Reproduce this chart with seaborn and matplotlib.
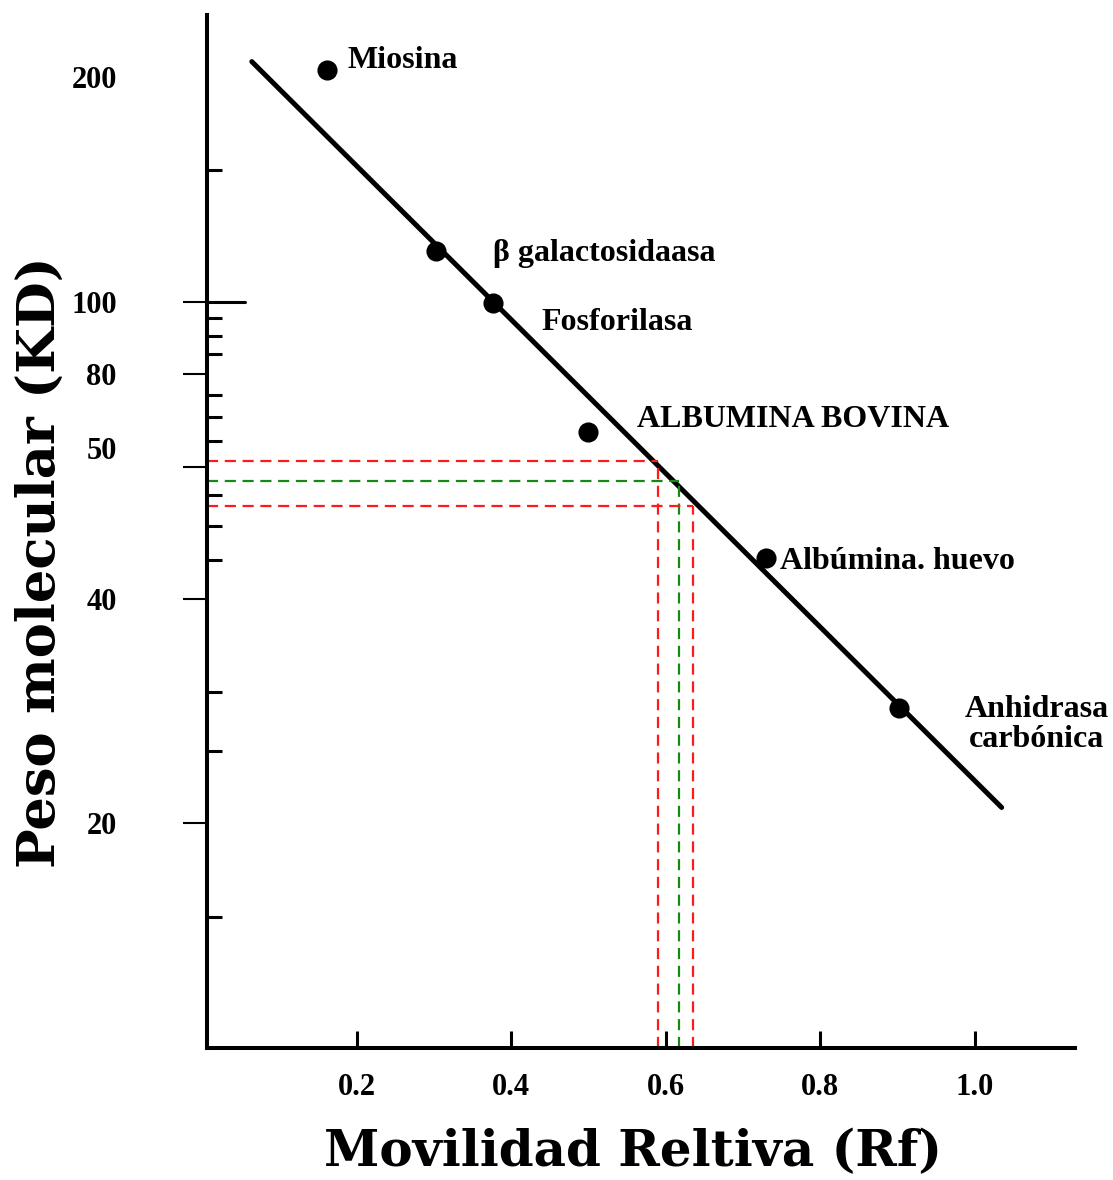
import seaborn as sns
import matplotlib.pyplot as plt
import matplotlib.transforms as mtransforms
import numpy as np
import pandas as pd

sns.set_theme(style='white')
plt.rcParams['font.family'] = ['Liberation Serif', 'DejaVu Serif']
plt.rcParams['text.color'] = 'black'
plt.rcParams['axes.labelcolor'] = 'black'
plt.rcParams['xtick.color'] = 'black'
plt.rcParams['ytick.color'] = 'black'

# patrones de peso molecular
proteinas = ['Miosina', 'β galactosidaasa', 'Fosforilasa', 'ALBUMINA BOVINA',
             'Albúmina. huevo', 'Anhidrasa\ncarbónica']
rf = [0.162, 0.303, 0.376, 0.499, 0.730, 0.902]
peso = [204, 117, 99.6, 66.8, 45.4, 28.5]

# posicion de las etiquetas
etiqueta_x = [0.188, 0.376, 0.439, 0.5625, 0.7476, 1.080]
etiqueta_y = [210, 115.8, 93.8, 69.6, 44.8, 27.1]

# recta de calibracion
recta_rf = [0.064, 1.035]
recta_peso = [209.6, 21.0]

# lecturas de la muestra
lectura_rf = [0.590, 0.617, 0.635]
lectura_peso = [61.2, 57.5, 53.2]
lectura_color = ['#ff1a1a', '#148a14', '#ff1a1a']

# ejes
y_ticks = [200, 100, 80, 60, 40, 20]
y_labels = ['200', '100', '80', '50', '40', '20']
y_minor = [200, 150, 100, 95, 90, 85, 80, 75, 70, 65, 60, 55, 50, 45, 40, 30, 25, 20, 15]
x_ticks = [0.2, 0.4, 0.6, 0.8, 1.0]
x_labels = ['0.2', '0.4', '0.6', '0.8', '1.0']
x_lim = (0.006, 1.13)
y_lim = (10, 242)

df = pd.DataFrame({'proteina': proteinas, 'Rf': rf, 'peso': peso})

fig = plt.figure(figsize=(11.13, 11.8), dpi=100)
ax = fig.add_axes([207/1113, 1-1048/1180, 868/1113, 1033/1180])
ax.set_yscale('log')

sns.lineplot(x=recta_rf, y=recta_peso, color='black', lw=3.6, ax=ax)
sns.scatterplot(data=df, x='Rf', y='peso', color='black', s=180, edgecolor='black', ax=ax, zorder=3)

for xr, yp, c in zip(lectura_rf, lectura_peso, lectura_color):
    ax.hlines(yp, x_lim[0], xr, colors=c, lw=1.6, linestyles=(0, (5, 3)))
    ax.vlines(xr, y_lim[0], yp, colors=c, lw=1.6, linestyles=(0, (5, 3)))

for nombre, tx, ty in zip(proteinas, etiqueta_x, etiqueta_y):
    ha = 'center' if '\n' in nombre else 'left'
    ax.text(tx, ty, nombre, ha=ha, va='center', fontsize=23, fontweight='bold',
            linespacing=1.05)

ax.set_xlim(x_lim)
ax.set_ylim(y_lim)

for s in ['top', 'right']:
    ax.spines[s].set_visible(False)
for s in ['left', 'bottom']:
    ax.spines[s].set_linewidth(2.9)
    ax.spines[s].set_color('black')

ax.set_xticks(x_ticks)
ax.set_xticklabels(x_labels)
ax.tick_params(axis='x', which='major', bottom=True, direction='in', length=12, width=2.2,
               pad=18, labelsize=22)

ax.set_yticks(y_ticks)
ax.set_yticklabels(y_labels)
ax.set_yticks(y_minor, minor=True)
ax.yaxis.set_minor_formatter(plt.NullFormatter())
ax.tick_params(axis='y', which='major', left=True, direction='out', length=17, width=1.5,
               pad=48, labelsize=22)
ax.tick_params(axis='y', which='minor', left=True, direction='in', length=11, width=2.2)
ax.tick_params(axis='x', which='minor', bottom=False)
for lbl in ax.get_xticklabels() + ax.get_yticklabels():
    lbl.set_fontweight('bold')

# el 200 no tiene marca exterior y la etiqueta "50" esta algo mas arriba
ax.yaxis.get_major_ticks()[0].tick1line.set_visible(False)
lbl50 = ax.get_yticklabels()[3]
lbl50.set_transform(lbl50.get_transform() + mtransforms.ScaledTranslation(0, 0.19, fig.dpi_scale_trans))
ax.axhline(100, xmin=0, xmax=38/868, color='black', lw=2.2)

ax.set_xlabel('Movilidad Reltiva (Rf)', fontsize=36, fontweight='bold',
              family=['DejaVu Serif'], va='center')
ax.set_ylabel('Peso molecular (KD)', fontsize=38, fontweight='bold',
              family=['DejaVu Serif'], va='center')
ax.xaxis.set_label_coords(0.491, -0.1016)
ax.yaxis.set_label_coords(-0.192, 0.470)

fig.savefig('out.png', dpi=100, facecolor='white')
